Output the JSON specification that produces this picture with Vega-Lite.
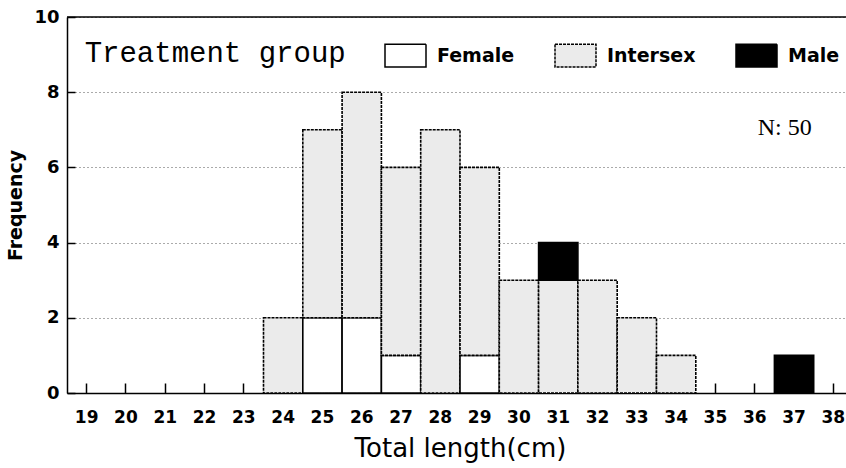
{
  "$schema": "https://vega.github.io/schema/vega-lite/v6.json",
  "autosize": {"type": "none"},
  "padding": {"left": 67, "top": 17, "right": 0, "bottom": 75},
  "width": 779,
  "height": 376,
  "background": "white",
  "config": {
    "view": {"stroke": null},
    "axis": {"domainColor": "black", "tickColor": "black", "labelColor": "black", "titleColor": "black"}
  },
  "layer": [
    {
      "data": {"values": [
        {"length": 24, "sex": "Intersex", "count": 2},
        {"length": 25, "sex": "Female", "count": 2},
        {"length": 25, "sex": "Intersex", "count": 5},
        {"length": 26, "sex": "Female", "count": 2},
        {"length": 26, "sex": "Intersex", "count": 6},
        {"length": 27, "sex": "Female", "count": 1},
        {"length": 27, "sex": "Intersex", "count": 5},
        {"length": 28, "sex": "Intersex", "count": 7},
        {"length": 29, "sex": "Female", "count": 1},
        {"length": 29, "sex": "Intersex", "count": 5},
        {"length": 30, "sex": "Intersex", "count": 3},
        {"length": 31, "sex": "Intersex", "count": 3},
        {"length": 31, "sex": "Male", "count": 1},
        {"length": 32, "sex": "Intersex", "count": 3},
        {"length": 33, "sex": "Intersex", "count": 2},
        {"length": 34, "sex": "Intersex", "count": 1},
        {"length": 37, "sex": "Male", "count": 1}
      ]},
      "mark": {"type": "bar", "stroke": "black", "strokeWidth": 1.6},
      "encoding": {
        "x": {
          "field": "length", "type": "ordinal",
          "scale": {"domain": [19,20,21,22,23,24,25,26,27,28,29,30,31,32,33,34,35,36,37,38], "range": [0, 786], "paddingInner": 0, "paddingOuter": 0},
          "axis": {
            "title": "Total length(cm)", "labelAngle": 0,
            "labelFont": "DejaVu Sans", "labelFontWeight": "bold", "labelFontSize": 17,
            "labelPadding": 26,
            "titleFont": "DejaVu Sans", "titleFontWeight": "normal", "titleFontSize": 26, "titlePadding": 10,
            "domainWidth": 1.5, "tickSize": -10, "tickWidth": 1.5, "grid": false
          }
        },
        "y": {
          "field": "count", "type": "quantitative", "stack": "zero",
          "scale": {"domain": [0, 10], "nice": false},
          "axis": {
            "title": "Frequency", "values": [0, 2, 4, 6, 8, 10],
            "labelFont": "DejaVu Sans", "labelFontWeight": "bold", "labelFontSize": 18,
            "labelPadding": 16,
            "titleFont": "DejaVu Sans", "titleFontWeight": "bold", "titleFontSize": 19, "titlePadding": 8,
            "domainWidth": 1.5, "tickSize": -8, "tickWidth": 1.5,
            "grid": true, "gridDash": [1, 3], "gridColor": "#555555", "gridWidth": 1
          }
        },
        "fill": {
          "field": "sex", "type": "nominal",
          "scale": {"domain": ["Female", "Intersex", "Male"], "range": ["#ffffff", "#ebebeb", "#000000"]},
          "legend": {
            "orient": "none", "legendX": 317, "legendY": 17, "direction": "horizontal", "title": null,
            "symbolType": "M-1,-0.55H1V0.55H-1Z", "symbolSize": 1681,
            "symbolStrokeColor": "black", "symbolStrokeWidth": 1.5,
            "labelFont": "DejaVu Sans", "labelFontWeight": "bold", "labelFontSize": 19, "labelColor": "black",
            "labelOffset": 10, "columnPadding": 37,
            "encode": {"symbols": {"update": {"stroke": {"value": "black"}, "strokeWidth": {"value": 1.5}}}}
          }
        },
        "strokeDash": {
          "field": "sex", "type": "nominal",
          "scale": {"domain": ["Female", "Intersex", "Male"], "range": [[1, 0], [3, 1], [1, 0]]},
          "legend": {
            "orient": "none", "legendX": 317, "legendY": 17, "direction": "horizontal", "title": null,
            "symbolType": "M-1,-0.55H1V0.55H-1Z", "symbolSize": 1681,
            "symbolStrokeColor": "black", "symbolStrokeWidth": 1.5,
            "labelFont": "DejaVu Sans", "labelFontWeight": "bold", "labelFontSize": 19, "labelColor": "black",
            "labelOffset": 10, "columnPadding": 37,
            "encode": {"symbols": {"update": {"stroke": {"value": "black"}, "strokeWidth": {"value": 1.5}}}}
          }
        },
        "order": {"field": "sex", "sort": "ascending"}
      }
    },
    {
      "data": {"values": [{"label": "Treatment group"}]},
      "mark": {"type": "text", "font": "Liberation Mono", "fontSize": 29, "align": "left", "baseline": "alphabetic", "dx": -2, "color": "black"},
      "encoding": {
        "x": {"datum": 19, "type": "ordinal"},
        "y": {"datum": 8.8, "type": "quantitative"},
        "text": {"field": "label"}
      }
    },
    {
      "data": {"values": [{"label": "N: 50"}]},
      "mark": {"type": "text", "font": "Liberation Serif", "fontSize": 24, "align": "left", "baseline": "alphabetic", "dx": 3, "color": "black"},
      "encoding": {
        "x": {"datum": 36, "type": "ordinal"},
        "y": {"datum": 6.85, "type": "quantitative"},
        "text": {"field": "label"}
      }
    },
    {
      "data": {"values": [{}]},
      "mark": {"type": "rule", "color": "black", "strokeWidth": 1.5},
      "encoding": {"y": {"datum": 10, "type": "quantitative"}}
    }
  ]
}
